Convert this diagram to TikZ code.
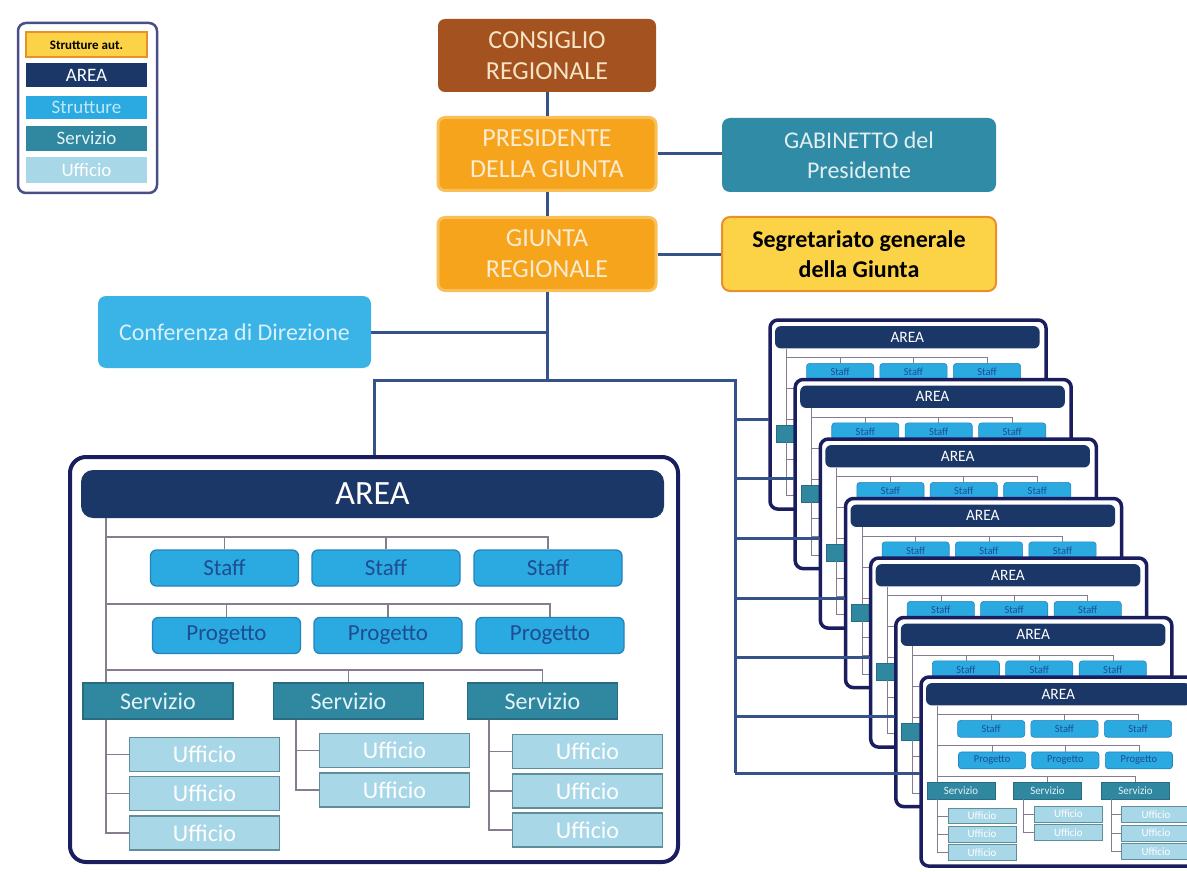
\documentclass[tikz,border=0pt]{standalone}
\usepackage{fontspec}
\setmainfont{Carlito}
\definecolor{cbrown}{HTML}{A4521F}
\definecolor{cbrownt}{HTML}{F6E3C4}
\definecolor{corange}{HTML}{F5A41C}
\definecolor{corangeb}{HTML}{F9C05A}
\definecolor{cortext}{HTML}{FDEBD0}
\definecolor{cteal}{HTML}{2F8BA6}
\definecolor{ctealt}{HTML}{E3EEF0}
\definecolor{cyellow}{HTML}{FCD247}
\definecolor{cyellowb}{HTML}{E8902A}
\definecolor{csky}{HTML}{3AB4E7}
\definecolor{cskyt}{HTML}{D8F0FA}
\definecolor{cnavy}{HTML}{1B3767}
\definecolor{cframe}{HTML}{1B1E5E}
\definecolor{cstaff}{HTML}{2AAAE1}
\definecolor{cstaffb}{HTML}{2683BC}
\definecolor{cstafft}{HTML}{1E4D91}
\definecolor{cserv}{HTML}{2F87A0}
\definecolor{cservb}{HTML}{276C80}
\definecolor{cservt}{HTML}{E4F3F7}
\definecolor{cuff}{HTML}{A8D7E8}
\definecolor{cuffb}{HTML}{5F8D99}
\definecolor{cconn}{HTML}{36528A}
\definecolor{cinner}{HTML}{877C8F}
\definecolor{clegb}{HTML}{4A4E86}
\definecolor{clegst}{HTML}{BFE8F8}
\tikzset{
  topbox/.style={rounded corners=7pt, minimum width=218pt, minimum height=73pt, align=center,
    font=\fontsize{26}{31}\selectfont, inner sep=0pt},
  consbox/.style={topbox, fill=cbrown, text=cbrownt},
  orbox/.style={topbox, fill=corange, draw=corangeb, line width=3pt, text=cortext},
  sidebox/.style={rounded corners=8pt, minimum width=274pt, minimum height=74pt, align=center,
    font=\fontsize{24}{30}\selectfont, inner sep=0pt},
  gabbox/.style={sidebox, fill=cteal, text=ctealt},
  segbox/.style={sidebox, fill=cyellow, draw=cyellowb, line width=2pt, text=black,
    font=\fontsize{24}{30}\selectfont\bfseries},
  confbox/.style={sidebox, minimum width=273pt, minimum height=72pt, fill=csky, text=cskyt},
  conn/.style={draw=cconn, line width=3pt},
  legframe/.style={draw=clegb, line width=2.5pt, fill=white, rounded corners=8pt,
    minimum width=139pt, minimum height=170pt, inner sep=0pt},
  legitem/.style={minimum width=121pt, inner sep=0pt, font=\fontsize{19}{22}\selectfont},
  pframe/.style={draw=cframe, fill=white, minimum width=608pt, minimum height=405pt, inner sep=0pt},
  phdr/.style={fill=cnavy, minimum width=583pt, minimum height=48pt, text=white,
    font=\fontsize{34}{40}\selectfont, inner sep=0pt},
  pstaff/.style={fill=cstaff, draw=cstaffb, minimum width=148pt, minimum height=36pt, text=cstafft,
    font=\fontsize{23}{28}\selectfont, inner sep=0pt},
  pserv/.style={fill=cserv, draw=cservb, minimum width=150pt, minimum height=36pt, text=cservt,
    font=\fontsize{24}{29}\selectfont, inner sep=0pt},
  puff/.style={fill=cuff, draw=cuffb, minimum width=150pt, minimum height=34pt, text=white,
    font=\fontsize{24}{29}\selectfont, inner sep=0pt},
  pline/.style={draw=cinner},
}
\newcommand\pshow[1]{#1}
\newcommand\phide[1]{}
% #1 prefix, #2 frame line width, #3 inner line width, #4 radius factor, #5 \pshow or \phide (lower rows text)
\newcommand\areapanel[5]{%
  \node[pframe, line width=#2, rounded corners=#4*16pt] (#1fr) at (304,202.5) {};
  \coordinate (#1tr) at (36,0);
  \coordinate (#1c2) at (226,0);
  \coordinate (#1c3) at (419,0);
  \coordinate (#1r1) at (0,80);
  \coordinate (#1r2) at (0,147);
  \coordinate (#1r3) at (0,213);
  \node[phdr, rounded corners=#4*12pt] (#1hdr) at (302.5,37) {AREA};
  \node[pstaff, line width=#3, rounded corners=#4*6pt] (#1st1) at (154.5,111) {Staff};
  \node[pstaff, line width=#3, rounded corners=#4*6pt] (#1st2) at (316,111) {Staff};
  \node[pstaff, line width=#3, rounded corners=#4*6pt] (#1st3) at (478,111) {Staff};
  \node[pstaff, line width=#3, rounded corners=#4*6pt] (#1pr1) at (156.5,178.5) {#5{Progetto}};
  \node[pstaff, line width=#3, rounded corners=#4*6pt] (#1pr2) at (318,178.5) {#5{Progetto}};
  \node[pstaff, line width=#3, rounded corners=#4*6pt] (#1pr3) at (480,178.5) {#5{Progetto}};
  \node[pserv, line width=#3] (#1sv1) at (88,244) {#5{Servizio}};
  \node[pserv, line width=#3] (#1sv2) at (278.5,244) {#5{Servizio}};
  \node[pserv, line width=#3] (#1sv3) at (472.5,244) {#5{Servizio}};
  \node[puff, line width=1.4*#3] (#1u11) at (134.5,297.5) {#5{Ufficio}};
  \node[puff, line width=1.4*#3] (#1u12) at (134.5,336.5) {#5{Ufficio}};
  \node[puff, line width=1.4*#3] (#1u13) at (134.5,376) {#5{Ufficio}};
  \node[puff, line width=1.4*#3] (#1u21) at (324.5,293.5) {#5{Ufficio}};
  \node[puff, line width=1.4*#3] (#1u22) at (324.5,333) {#5{Ufficio}};
  \node[puff, line width=1.4*#3] (#1u31) at (517.5,294.5) {#5{Ufficio}};
  \node[puff, line width=1.4*#3] (#1u32) at (517.5,334) {#5{Ufficio}};
  \node[puff, line width=1.4*#3] (#1u33) at (517.5,373) {#5{Ufficio}};
  \begin{scope}[line width=#3]
    \draw[pline] (#1hdr.south -| #1tr) -- (#1sv1.north -| #1tr);
    \draw[pline] (#1tr |- #1r1) -| (#1st3.north);
    \draw[pline] (#1r1 -| #1st1) -- (#1st1.north);
    \draw[pline] (#1r1 -| #1st2) -- (#1st2.north);
    \draw[pline] (#1tr |- #1r2) -| (#1pr3.north);
    \draw[pline] (#1r2 -| #1pr1) -- (#1pr1.north);
    \draw[pline] (#1r2 -| #1pr2) -- (#1pr2.north);
    \draw[pline] (#1tr |- #1r3) -| (#1sv3.north);
    \draw[pline] (#1r3 -| #1sv2) -- (#1sv2.north);
    \draw[pline] (#1sv1.south -| #1tr) |- (#1u13.west);
    \draw[pline] (#1tr |- #1u11) -- (#1u11.west);
    \draw[pline] (#1tr |- #1u12) -- (#1u12.west);
    \draw[pline] (#1sv2.south -| #1c2) |- (#1u22.west);
    \draw[pline] (#1c2 |- #1u21) -- (#1u21.west);
    \draw[pline] (#1sv3.south -| #1c3) |- (#1u33.west);
    \draw[pline] (#1c3 |- #1u31) -- (#1u31.west);
    \draw[pline] (#1c3 |- #1u32) -- (#1u32.west);
  \end{scope}
}
% #1 prefix, #2 x, #3 y, #4 \pshow or \phide
\newcommand\minicard[4]{%
  \begin{scope}[shift={(#2,#3)}, xscale=0.454, yscale=0.467, transform shape]
    \areapanel{#1}{3.5pt}{0.6pt}{0.5}{#4}
  \end{scope}}
\begin{document}
\begin{tikzpicture}[x=1pt,y=-1pt]
\useasboundingbox[fill=white] (0,0) rectangle (1187,872);
% legend
\node[legframe] (leg) at (87.5,108) {};
\node[legitem, fill=cyellow, draw=cyellowb, line width=2pt, minimum height=25pt,
  font=\fontsize{13}{15}\selectfont\bfseries] (lsa) at (86.5,45) {Strutture aut.};
\node[legitem, fill=cnavy, text=white, minimum height=24pt] (lar) at (86.5,75) {AREA};
\node[legitem, fill=cstaff, text=clegst, minimum height=23pt] (lst) at (86.5,107.5) {Strutture};
\node[legitem, fill=cserv, text=cservt, minimum height=25pt] (lsv) at (86.5,138.5) {Servizio};
\node[legitem, fill=cuff, text=white, minimum height=26pt] (luf) at (86.5,170) {Ufficio};
% top hierarchy
\node[consbox] (cons) at (547,55.5) {CONSIGLIO\\REGIONALE};
\node[orbox] (pres) at (547,154) {PRESIDENTE\\DELLA GIUNTA};
\node[orbox] (giun) at (547,254) {GIUNTA\\REGIONALE};
\node[gabbox] (gab) at (859,155) {GABINETTO del\\Presidente};
\node[segbox] (seg) at (859,254) {Segretariato generale\\della Giunta};
\node[confbox] (conf) at (234.5,332) {Conferenza di Direzione};
\coordinate (jM) at (547,380);
\coordinate (jL) at (374,380);
\coordinate (jR) at (735,380);
\coordinate (jB) at (735,773);
% big area panel
\begin{scope}[shift={(70,457)}]
  \areapanel{A}{4pt}{1.3pt}{1}{\pshow}
\end{scope}
% stacked cards
\minicard{Ca}{770}{320}{\phide}
\minicard{Cb}{795.2}{379.5}{\phide}
\minicard{Cc}{820.3}{439}{\phide}
\minicard{Cd}{845.5}{498.5}{\phide}
\minicard{Ce}{870.7}{558}{\phide}
\minicard{Cf}{895.8}{617.5}{\phide}
\minicard{Cg}{921}{677}{\pshow}
% connectors
\draw[conn] (cons.south) -- (pres.north);
\draw[conn] (pres.south) -- (giun.north);
\draw[conn] (giun.south) -- (jM);
\draw[conn] (pres.east) -- (pres.east -| gab.west);
\draw[conn] (giun.east) -- (giun.east -| seg.west);
\draw[conn] (conf.east) -- (conf.east -| jM);
\draw[conn] (jL |- Afr.north) -- (jL) -- (jR) -- (jB);
\coordinate (b1) at (735,419);
\coordinate (b2) at (735,478);
\coordinate (b3) at (735,538);
\coordinate (b4) at (735,598);
\coordinate (b5) at (735,657);
\coordinate (b6) at (735,716);
\coordinate (b7) at (735,773);
\draw[conn] (b1) -- (b1 -| Cafr.west);
\draw[conn] (b2) -- (b2 -| Cbfr.west);
\draw[conn] (b3) -- (b3 -| Ccfr.west);
\draw[conn] (b4) -- (b4 -| Cdfr.west);
\draw[conn] (b5) -- (b5 -| Cefr.west);
\draw[conn] (b6) -- (b6 -| Cffr.west);
\draw[conn] (b7) -- (b7 -| Cgfr.west);
\end{tikzpicture}
\end{document}
